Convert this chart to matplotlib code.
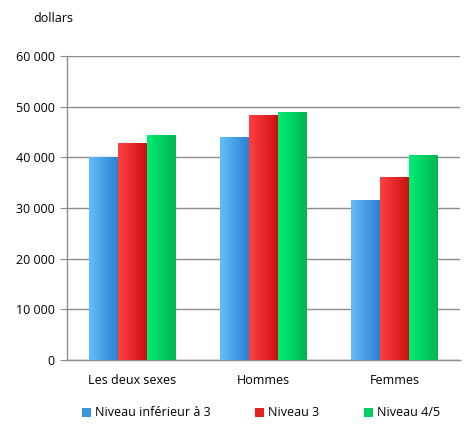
import matplotlib
matplotlib.use("Agg")
import matplotlib.pyplot as plt
import numpy as np
from matplotlib.colors import LinearSegmentedColormap
from matplotlib.patches import Patch

categories = ["Les deux sexes", "Hommes", "Femmes"]
series_names = ["Niveau inférieur à 3", "Niveau 3", "Niveau 4/5"]
niveau_inf3 = [40000, 44000, 31600]
niveau_3 = [42800, 48300, 36100]
niveau_45 = [44400, 48900, 40400]
yticks = [0, 10000, 20000, 30000, 40000, 50000, 60000]

grads = [("#64bcf7", "#2a82d4"), ("#ff4040", "#cc1010"), ("#00ec72", "#00b650")]
solid = ["#3a96e0", "#e82020", "#00d060"]

plt.rcParams["font.family"] = ["Open Sans", "DejaVu Sans"]

fig = plt.figure(figsize=(4.74, 4.46), dpi=100)
ax = fig.add_axes([67/474, 1-360/446, 393/474, 304/446])

x = np.arange(len(categories))
w = 0.22
data = [niveau_inf3, niveau_3, niveau_45]
for i, vals in enumerate(data):
    bars = ax.bar(x + (i-1)*w, vals, w, color=solid[i], zorder=2, linewidth=0)
    cmap = LinearSegmentedColormap.from_list("g%d" % i, grads[i])
    grad = np.linspace(0, 1, 64).reshape(1, -1)
    for b in bars:
        bx, by = b.get_x(), b.get_y()
        bw, bh = b.get_width(), b.get_height()
        im = ax.imshow(grad, cmap=cmap, aspect="auto", extent=[bx, bx+bw, by, by+bh], zorder=3)
        im.set_clip_path(b)

ax.set_xlim(-0.5, 2.5)
ax.set_ylim(0, 60000)
ax.set_yticks(yticks)
ax.set_yticklabels([f"{v:,}".replace(",", " ") for v in yticks])
ax.set_xticks(x)
ax.set_xticklabels(categories)
ax.yaxis.grid(True, color="#8c8c8c", linewidth=1.0, zorder=0)
ax.set_axisbelow(True)
for s in ["top", "right"]:
    ax.spines[s].set_visible(False)
for s in ["left", "bottom"]:
    ax.spines[s].set_color("#8c8c8c")
    ax.spines[s].set_linewidth(1.0)
ax.tick_params(axis="y", length=5, color="#8c8c8c", labelsize=9, pad=4)
ax.tick_params(axis="x", length=0, labelsize=9, pad=10)

fig.text(33/474, 1-18/446, "dollars", fontsize=9, va="center", ha="left")

handles = [Patch(facecolor=solid[i], edgecolor="none") for i in range(3)]
fig.legend(handles, series_names, loc="center", bbox_to_anchor=(261/474, 1-413/446), ncol=3,
           frameon=False, fontsize=9, handlelength=0.7, handleheight=0.7, handletextpad=0.3,
           columnspacing=3.6)

fig.savefig("out.png", dpi=100)
